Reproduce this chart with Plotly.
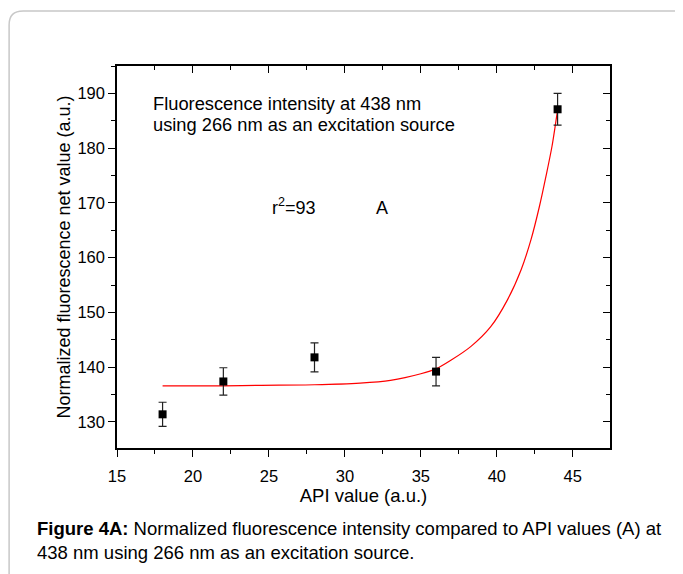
import plotly.graph_objects as go

# Data
api_x = [18, 22, 28, 36, 44]
fluor_y = [131.4, 137.4, 141.8, 139.2, 187.1]
fluor_err = [2.2, 2.5, 2.65, 2.6, 2.9]

# Exponential fit curve
fit_x = [18, 22, 24.5, 28, 31, 33, 35, 36, 37, 38.3, 39.6, 40.7, 41.6, 42.25, 42.8, 43.23, 43.63, 44.0]
fit_y = [136.6, 136.6, 136.7, 136.8, 137.1, 137.6, 138.8, 139.7, 141.3, 143.8, 147.4, 152.3, 157.8, 163.3, 169.3, 174.8, 180.3, 187.0]

x_range = [15, 47.45]
y_range = [125.25, 195.0]

OFF = 8  # default body margin of the page
W, H = 683 - OFF, 574 - OFF
L, R, T, B = 116.5 - OFF, 610 - OFF, 65.7 - OFF, 448.3 - OFF


def px(x):
    return (x - OFF - L) / (R - L)


def py(y):
    return (B - (y - OFF)) / (B - T)


FONT = "Liberation Sans, Arial, sans-serif"

fig = go.Figure()
fig.add_trace(go.Scatter(
    x=fit_x, y=fit_y, mode="lines", line=dict(color="#ff0000", width=1.2, shape="spline", smoothing=0.8),
    hoverinfo="skip", showlegend=False))
fig.add_trace(go.Scatter(
    x=api_x, y=fluor_y, mode="markers",
    marker=dict(symbol="square", size=8, color="black"),
    error_y=dict(type="data", array=fluor_err, visible=True, color="#222222", thickness=1.2, width=4),
    showlegend=False))
# overlay trace to drive mirrored axes
fig.add_trace(go.Scatter(x=x_range, y=y_range, xaxis="x2", yaxis="y2", mode="markers",
                         marker=dict(opacity=0), hoverinfo="skip", showlegend=False))

axis_common = dict(showgrid=False, zeroline=False, showline=True, linecolor="black", linewidth=1.5,
                   tickcolor="black", tickwidth=1.2, automargin=False)

fig.update_layout(
    width=W, height=H,
    margin=dict(l=L, r=W - R, t=T, b=H - B),
    paper_bgcolor="white", plot_bgcolor="white",
    font=dict(family=FONT, color="black"),
    xaxis=dict(range=x_range, dtick=5, tick0=15, ticks="outside", ticklen=7,
               minor=dict(ticks="outside", ticklen=4, dtick=2.5, tick0=15, tickcolor="black"),
               tickfont=dict(size=16.5), ticklabelstandoff=5,
               title=dict(text="API value (a.u.)", font=dict(size=18.5), standoff=4),
               **axis_common),
    yaxis=dict(range=y_range, dtick=10, tick0=130, ticks="outside", ticklen=7,
               minor=dict(ticks="outside", ticklen=4, dtick=5, tick0=125, tickcolor="black"),
               tickfont=dict(size=16.5),
               title=dict(text="Normalized fluorescence net value (a.u.)", font=dict(size=18), standoff=2),
               **axis_common),
    xaxis2=dict(range=x_range, overlaying="x", side="top", anchor="y", dtick=5, tick0=15,
                ticks="inside", ticklen=7, showticklabels=False,
                minor=dict(ticks="inside", ticklen=4, dtick=2.5, tick0=15, tickcolor="black"),
                **axis_common),
    yaxis2=dict(range=y_range, overlaying="y", side="right", anchor="x", dtick=10, tick0=130,
                ticks="inside", ticklen=7, showticklabels=False,
                minor=dict(ticks="inside", ticklen=4, dtick=5, tick0=125, tickcolor="black"),
                **axis_common),
)

# Outer rounded frame
x0, y0, x1, y1, r = px(8.5), py(10.5), px(700), py(590), 14
rx, ry = r / (R - L), r / (B - T)
path = (f"M {x0} {y1} L {x0} {y0 - ry} Q {x0} {y0} {x0 + rx} {y0} L {x1} {y0}")
fig.add_shape(type="path", path=path, xref="paper", yref="paper",
              line=dict(color="#c8c8c8", width=1.5), layer="below")

fig.add_annotation(x=px(151), y=py(103), xref="paper", yref="paper", xanchor="left", yanchor="middle",
                   text="Fluorescence intensity at 438 nm",
                   showarrow=False, align="left", font=dict(size=18.3))
fig.add_annotation(x=px(151), y=py(124.5), xref="paper", yref="paper", xanchor="left", yanchor="middle",
                   text="using 266 nm as an excitation source",
                   showarrow=False, align="left", font=dict(size=18.3))
fig.add_annotation(x=px(270), y=py(206), xref="paper", yref="paper", xanchor="left", yanchor="middle",
                   text="r<sup>2</sup>=93", showarrow=False, font=dict(size=18))
fig.add_annotation(x=px(374), y=py(208), xref="paper", yref="paper", xanchor="left", yanchor="middle",
                   text="A", showarrow=False, font=dict(size=18))

fig.add_annotation(x=px(34), y=py(516), xref="paper", yref="paper", xanchor="left", yanchor="top",
                   text="<b>Figure 4A:</b> Normalized fluorescence intensity compared to API values (A) at<br>"
                        "438 nm using 266 nm as an excitation source.",
                   showarrow=False, align="left",
                   font=dict(size=18.5, family="Liberation Sans Narrow, Arial Narrow, sans-serif"))

fig.write_html("out.html")
